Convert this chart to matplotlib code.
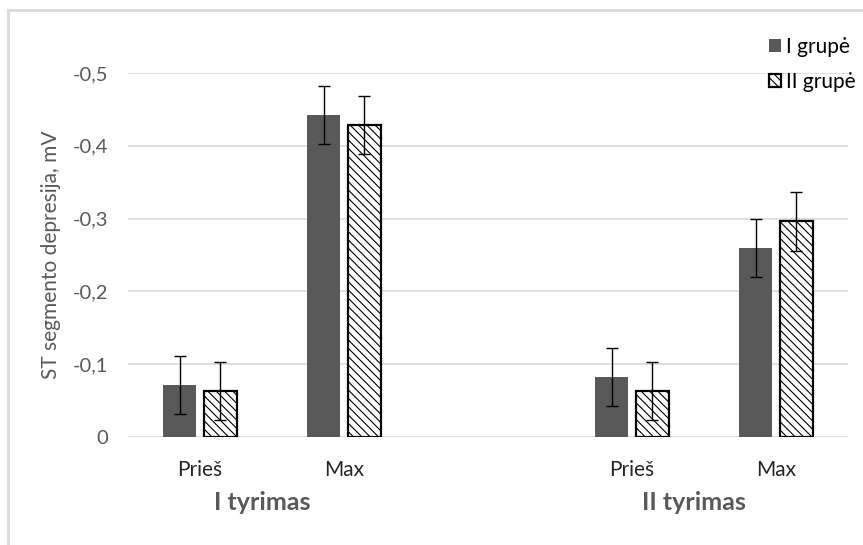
import numpy as np
import matplotlib
matplotlib.use("Agg")
import matplotlib.pyplot as plt
from matplotlib.lines import Line2D
from matplotlib.ticker import FuncFormatter

plt.rcParams['font.family'] = ['Lato', 'DejaVu Sans']
plt.rcParams['hatch.linewidth'] = 0.8

# categories (empty slot between the two studies)
categories = ["Prieš", "Max", "", "Prieš", "Max"]
positions = [0, 1, 3, 4]
groups = ["I tyrimas", "II tyrimas"]
group_centers = [0.43, 3.43]
series_names = ["I grupė", "II grupė"]

# ST depression, mV (negative values)
grp1 = [-0.071, -0.442, -0.082, -0.259]
grp2 = [-0.063, -0.428, -0.063, -0.296]
err1 = [0.040, 0.040, 0.040, 0.040]
err2 = [0.040, 0.040, 0.040, 0.040]

yticks = [0, -0.1, -0.2, -0.3, -0.4, -0.5]

fig = plt.figure(figsize=(8.63, 5.45), dpi=100)
ax = fig.add_axes([0.1483, 0.1987, 0.8343, 0.6673])

w = 0.23
off = 0.14
x = np.array(positions, dtype=float)
ax.bar(x - off, grp1, w, color="#595959", label=series_names[0], zorder=2)
ax.bar(x + off, grp2, w, color="white", edgecolor="black", linewidth=1.6,
       hatch="\\\\\\\\", label=series_names[1], zorder=2)
ax.errorbar(x - off, grp1, yerr=err1, fmt="none", ecolor="black",
            elinewidth=1, capsize=4, capthick=1, zorder=3)
ax.errorbar(x + off, grp2, yerr=err2, fmt="none", ecolor="black",
            elinewidth=1, capsize=4, capthick=1, zorder=3)

ax.set_xlim(-0.5, len(categories) - 0.5)
ax.set_ylim(0, -0.5)
ax.set_yticks(yticks)
ax.yaxis.set_major_formatter(FuncFormatter(
    lambda v, p: "0" if abs(v) < 1e-9 else ("%.1f" % v).replace(".", ",")))
ax.grid(axis="y", color="#d9d9d9", linewidth=1.2, zorder=0)
ax.set_axisbelow(True)
for s in ax.spines.values():
    s.set_visible(False)

ax.set_xticks(range(len(categories)))
ax.set_xticklabels(categories)
ax.tick_params(axis="y", length=0, pad=14, labelsize=14.5, labelcolor="#595959")
ax.tick_params(axis="x", length=0, pad=17, labelsize=15, labelcolor="#262626")

for g, c in zip(groups, group_centers):
    ax.text(c, -0.181, g, transform=ax.get_xaxis_transform(),
            ha="center", va="center", fontsize=18, fontweight="bold",
            color="#595959")

ax.set_ylabel("ST segmento depresija, mV", fontsize=15, color="#595959",
              labelpad=9)

leg = fig.legend(*ax.get_legend_handles_labels(), loc="upper right",
                 bbox_to_anchor=(0.991, 0.932), frameon=False,
                 fontsize=15, handlelength=0.6, handleheight=0.6,
                 handletextpad=0.2, labelspacing=0.7, borderpad=0,
                 borderaxespad=0)

# chart border (left and top)
fig.add_artist(Line2D([0.0093, 0.0093], [0, 0.9817], color="#d9d9d9", lw=2))
fig.add_artist(Line2D([0.0093, 1.0], [0.9817, 0.9817], color="#d9d9d9", lw=2))

fig.savefig("out.png", dpi=100)
